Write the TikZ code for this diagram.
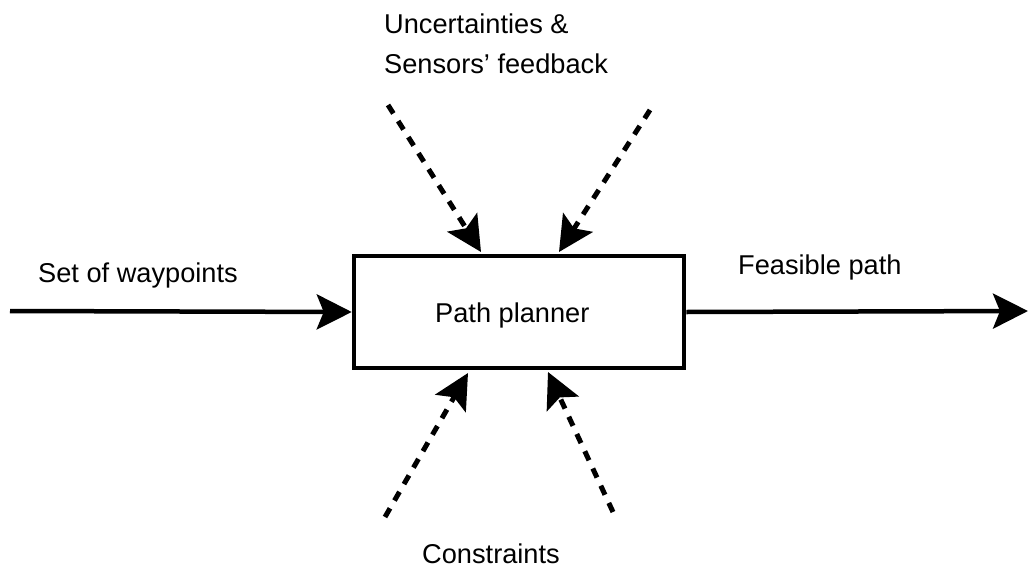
\documentclass[tikz,border=0pt]{standalone}
\usepackage{fontspec}
\setmainfont{Liberation Sans}
\usetikzlibrary{arrows.meta}
\begin{document}
\begin{tikzpicture}[x=1pt,y=-1pt,
  lbl/.style={anchor=base west,inner sep=0pt,font=\fontsize{27.2}{32}\selectfont},
  block/.style={draw,line width=4.5pt,minimum width=330pt,minimum height=112pt,inner sep=0pt},
  bigtip/.style={-{Stealth[length=35pt,width=35pt,inset=7pt]}},
  flow/.style={bigtip,line width=4.5pt},
  influence/.style={bigtip,line width=5pt,dash pattern=on 10pt off 9pt}]
  \useasboundingbox (0,0) rectangle (1028,570);

  % central block
  \node[block] (pp) at (519,312) {};
  \node[lbl] (pptext) at (435,322) {Path planner};

  % labels
  \node[lbl] (inlbl) at (38,282) {Set of waypoints};
  \node[lbl] (outlbl) at (738,274) {Feasible path};
  \node[lbl] (unc1) at (384,33) {Uncertainties \&};
  \node[lbl] (unc2) at (384,73) {Sensors’ feedback};
  \node[lbl] (cons) at (422,563) {Constraints};

  % main flow
  \coordinate (src) at (10,311);
  \coordinate (dst) at (1028,311);
  \draw[flow] (src) -- (pp.west);
  \draw[flow] (pp.east) -- (dst);

  % uncertainties and feedback from above
  \coordinate (u1s) at (388,105);
  \coordinate (u1e) at (481,252);
  \coordinate (u2s) at (650,110);
  \coordinate (u2e) at (559,252);
  \draw[influence] (u1s) -- (u1e);
  \draw[influence] (u2s) -- (u2e);

  % constraints from below
  \coordinate (c1s) at (385,517);
  \coordinate (c1e) at (468,373);
  \coordinate (c2s) at (613,512);
  \coordinate (c2e) at (548,372);
  \draw[influence] (c1s) -- (c1e);
  \draw[influence] (c2s) -- (c2e);
\end{tikzpicture}
\end{document}
